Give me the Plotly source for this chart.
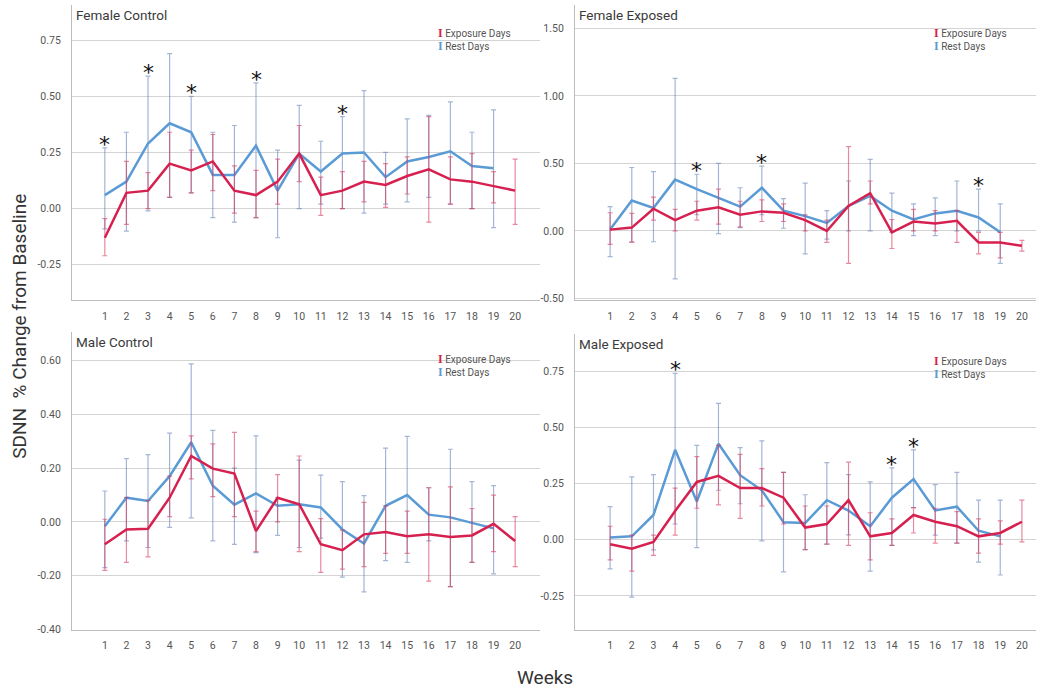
import plotly.graph_objects as go

weeks = list(range(1, 21))
weeks_rest = list(range(1, 20))

# ---- Female Control ----
fc_exp_mean = [-0.13, 0.07, 0.08, 0.20, 0.17, 0.21, 0.08, 0.06, 0.12, 0.245,
               0.06, 0.08, 0.12, 0.105, 0.145, 0.175, 0.13, 0.12, 0.10, 0.08]
fc_exp_lo = [-0.21, -0.07, 0.00, 0.05, 0.07, 0.08, -0.02, -0.04, 0.02, 0.12,
             -0.03, 0.00, 0.03, 0.005, 0.065, -0.06, 0.02, 0.00, 0.025, -0.07]
fc_exp_hi = [-0.045, 0.21, 0.16, 0.34, 0.26, 0.33, 0.19, 0.17, 0.22, 0.37,
             0.14, 0.165, 0.21, 0.20, 0.23, 0.41, 0.23, 0.245, 0.165, 0.22]
fc_rest_mean = [0.06, 0.12, 0.29, 0.38, 0.34, 0.15, 0.15, 0.28, 0.08, 0.245,
                0.165, 0.245, 0.25, 0.14, 0.21, 0.23, 0.255, 0.19, 0.18]
fc_rest_lo = [-0.09, -0.10, -0.01, 0.05, 0.07, -0.04, -0.06, -0.04, -0.13, 0.00,
              0.02, 0.00, -0.02, 0.02, 0.03, 0.05, 0.02, 0.00, -0.085]
fc_rest_hi = [0.27, 0.34, 0.59, 0.69, 0.50, 0.34, 0.37, 0.56, 0.26, 0.46,
              0.30, 0.41, 0.525, 0.25, 0.40, 0.415, 0.475, 0.34, 0.44]
fc_stars = [1, 3, 5, 8, 12]

# ---- Female Exposed ----
fe_exp_mean = [0.01, 0.025, 0.165, 0.08, 0.15, 0.175, 0.12, 0.145, 0.135, 0.08,
               0.00, 0.185, 0.28, -0.01, 0.07, 0.055, 0.075, -0.085, -0.085, -0.11]
fe_exp_lo = [-0.10, -0.085, 0.08, 0.00, 0.08, 0.05, 0.03, 0.07, 0.07, 0.00,
             -0.085, -0.24, 0.20, -0.13, 0.00, 0.00, -0.085, -0.17, -0.20, -0.15]
fe_exp_hi = [0.135, 0.13, 0.25, 0.16, 0.22, 0.31, 0.22, 0.23, 0.20, 0.12,
             0.08, 0.625, 0.37, 0.085, 0.16, 0.15, 0.15, -0.01, -0.01, -0.07]
fe_rest_mean = [0.01, 0.225, 0.17, 0.38, 0.31, 0.245, 0.18, 0.32, 0.15, 0.11,
                0.06, 0.185, 0.26, 0.15, 0.085, 0.13, 0.15, 0.10, -0.01]
fe_rest_lo = [-0.19, -0.08, -0.08, -0.355, 0.12, -0.02, 0.025, 0.12, 0.02, -0.17,
              -0.06, 0.00, 0.00, -0.01, -0.035, -0.035, 0.00, 0.00, -0.24]
fe_rest_hi = [0.18, 0.47, 0.44, 1.13, 0.42, 0.50, 0.32, 0.48, 0.24, 0.355,
              0.15, 0.37, 0.53, 0.28, 0.20, 0.245, 0.37, 0.31, 0.20]
fe_stars = [5, 8, 18]

# ---- Male Control ----
mc_exp_mean = [-0.083, -0.028, -0.025, 0.09, 0.245, 0.198, 0.18, -0.034, 0.09, 0.066,
               -0.083, -0.105, -0.046, -0.037, -0.053, -0.046, -0.056, -0.05, -0.007, -0.071]
mc_exp_lo = [-0.18, -0.15, -0.13, 0.02, 0.16, 0.094, 0.02, -0.11, 0.00, -0.11,
             -0.187, -0.175, -0.166, -0.117, -0.117, -0.22, -0.24, -0.15, -0.11, -0.166]
mc_exp_hi = [0.01, 0.09, 0.08, 0.17, 0.32, 0.29, 0.333, 0.04, 0.176, 0.245,
             0.012, -0.03, 0.073, 0.06, 0.04, 0.127, 0.13, 0.05, 0.10, 0.02]
mc_rest_mean = [-0.016, 0.09, 0.078, 0.17, 0.296, 0.135, 0.064, 0.106, 0.06, 0.066,
                0.054, -0.028, -0.08, 0.06, 0.10, 0.027, 0.017, -0.004, -0.024]
mc_rest_lo = [-0.17, -0.07, -0.095, -0.02, 0.015, -0.07, -0.083, -0.114, -0.05, -0.095,
              -0.06, -0.205, -0.26, -0.144, -0.15, -0.07, -0.24, -0.15, -0.193]
mc_rest_hi = [0.115, 0.235, 0.25, 0.33, 0.587, 0.34, 0.20, 0.32, 0.09, 0.23,
              0.174, 0.15, 0.098, 0.274, 0.318, 0.127, 0.27, 0.15, 0.135]
mc_stars = []

# ---- Male Exposed ----
me_exp_mean = [-0.02, -0.04, -0.01, 0.128, 0.257, 0.284, 0.23, 0.23, 0.187, 0.054,
               0.07, 0.176, 0.015, 0.03, 0.11, 0.08, 0.06, 0.015, 0.03, 0.08]
me_exp_lo = [-0.09, -0.14, -0.07, 0.02, 0.14, 0.155, 0.095, 0.15, 0.07, -0.044,
             -0.02, -0.025, -0.09, -0.025, 0.03, -0.015, -0.015, -0.06, -0.02, -0.01]
me_exp_hi = [0.06, 0.02, 0.02, 0.23, 0.37, 0.42, 0.38, 0.316, 0.30, 0.15,
             0.15, 0.345, 0.12, 0.093, 0.143, 0.14, 0.125, 0.093, 0.084, 0.176]
me_rest_mean = [0.01, 0.015, 0.11, 0.40, 0.17, 0.427, 0.287, 0.22, 0.078, 0.074,
                0.176, 0.13, 0.06, 0.187, 0.27, 0.13, 0.147, 0.04, 0.015]
me_rest_lo = [-0.13, -0.255, -0.045, 0.07, -0.035, 0.22, 0.16, -0.005, -0.143, -0.044,
              -0.02, 0.022, -0.14, -0.025, 0.143, 0.02, -0.015, -0.10, -0.157]
me_rest_hi = [0.147, 0.28, 0.29, 0.74, 0.42, 0.607, 0.41, 0.44, 0.30, 0.20,
              0.343, 0.29, 0.257, 0.32, 0.40, 0.245, 0.30, 0.176, 0.176]
me_stars = [4, 14, 15]

panel_titles = ["Female Control", "Female Exposed", "Male Control", "Male Exposed"]
y_ranges = [[-0.407, 0.907], [-0.511, 1.674], [-0.40, 0.707], [-0.40, 0.917]]
y_ticks = [[-0.25, 0.0, 0.25, 0.5, 0.75],
           [-0.5, 0.0, 0.5, 1.0, 1.5],
           [-0.4, -0.2, 0.0, 0.2, 0.4, 0.6],
           [-0.25, 0.0, 0.25, 0.5, 0.75]]
tick_labels = [["-0.25", "0.00", "0.25", "0.50", "0.75"],
               ["-0.50", "0.00", "0.50", "1.00", "1.50"],
               ["-0.40", "-0.20", "0.00", "0.20", "0.40", "0.60"],
               ["-0.25", "0.00", "0.25", "0.50", "0.75"]]

panels = [
    (fc_exp_mean, fc_exp_lo, fc_exp_hi, fc_rest_mean, fc_rest_lo, fc_rest_hi, fc_stars),
    (fe_exp_mean, fe_exp_lo, fe_exp_hi, fe_rest_mean, fe_rest_lo, fe_rest_hi, fe_stars),
    (mc_exp_mean, mc_exp_lo, mc_exp_hi, mc_rest_mean, mc_rest_lo, mc_rest_hi, mc_stars),
    (me_exp_mean, me_exp_lo, me_exp_hi, me_rest_mean, me_rest_lo, me_rest_hi, me_stars),
]

RED = "#d6204f"
BLUE = "#5b9bd5"
RED_BAR = "rgba(214,40,80,0.55)"
BLUE_BAR = "rgba(90,120,180,0.55)"
W, H = 1038, 698

# panel boxes in pixels: (left, right, top, bottom)
boxes = [(72, 540, 5, 303), (575, 1036, 5, 303),
         (72, 540, 335, 636), (575, 1036, 337, 636)]
x_ranges = [[-0.52, 21.15], [-0.62, 20.65], [-0.52, 21.15], [-0.62, 20.65]]

fig = go.Figure()
annotations = []

for i, (em, elo, ehi, rm, rlo, rhi, stars) in enumerate(panels):
    n = i + 1
    xa = "x" if n == 1 else f"x{n}"
    ya = "y" if n == 1 else f"y{n}"
    # Rest days first so the exposure line sits on top
    fig.add_trace(go.Scatter(
        x=weeks_rest, y=rm, mode="lines", xaxis=xa, yaxis=ya,
        line=dict(color=BLUE, width=2.5), showlegend=False,
        error_y=dict(type="data", symmetric=False,
                     array=[h - m for h, m in zip(rhi, rm)],
                     arrayminus=[m - l for m, l in zip(rm, rlo)],
                     color=BLUE_BAR, thickness=1.2, width=2.5)))
    fig.add_trace(go.Scatter(
        x=weeks, y=em, mode="lines", xaxis=xa, yaxis=ya,
        line=dict(color=RED, width=2.5), showlegend=False,
        error_y=dict(type="data", symmetric=False,
                     array=[h - m for h, m in zip(ehi, em)],
                     arrayminus=[m - l for m, l in zip(em, elo)],
                     color=RED_BAR, thickness=1.2, width=2.5)))

    left, right, top, bottom = boxes[i]
    dom_x = [left / W, right / W]
    dom_y = [1 - bottom / H, 1 - top / H]
    axis_common = dict(showline=True, linecolor="#bdbdbd", linewidth=1.2,
                       zeroline=False, ticks="", tickfont=dict(family="Roboto", size=10.5, color="#555555"))
    fig.layout[f"xaxis{'' if n == 1 else n}"] = dict(
        domain=dom_x, range=x_ranges[i], anchor=ya, tickmode="array",
        tickvals=weeks, ticktext=[str(w) for w in weeks], showgrid=False,
        ticklabelstandoff=6, **axis_common)
    fig.layout[f"yaxis{'' if n == 1 else n}"] = dict(
        domain=dom_y, range=y_ranges[i], anchor=xa, tickmode="array",
        tickvals=y_ticks[i], ticktext=tick_labels[i], showgrid=True,
        gridcolor="#d4d4d4", gridwidth=1, ticklabelstandoff=8, **axis_common)

    # panel title
    annotations.append(dict(text=panel_titles[i], xref=f"{xa} domain", yref=f"{ya} domain",
                            x=0.005, y=1.0, xanchor="left", yanchor="top", showarrow=False,
                            font=dict(family="Roboto", size=13.5, color="#3a3a3a")))
    # significance markers above the tallest interval
    for wk in stars:
        j = wk - 1
        top_val = max(rhi[j], ehi[j])
        annotations.append(dict(text="*", x=wk, y=top_val, xref=xa, yref=ya,
                                xanchor="center", yanchor="bottom", showarrow=False,
                                yshift=-11, font=dict(family="DejaVu Sans", size=22, color="#111111")))
    # legend block: error-bar glyph plus label
    lx = (right - 104) / W
    ly = 1 - (top + 28) / H
    glyph = "font-family:Liberation Serif;font-weight:bold;font-size:12px"
    annotations.append(dict(text=f"<span style='color:{RED};{glyph}'>I</span> Exposure Days",
                            xref="paper", yref="paper", x=lx, y=ly, xanchor="left", yanchor="middle",
                            showarrow=False, font=dict(family="Roboto", size=10, color="#555555")))
    annotations.append(dict(text=f"<span style='color:{BLUE};{glyph}'>I</span> Rest Days",
                            xref="paper", yref="paper", x=lx, y=ly - 13 / H, xanchor="left", yanchor="middle",
                            showarrow=False, font=dict(family="Roboto", size=10, color="#555555")))

# shared axis titles
annotations.append(dict(text="SDNN  % Change from Baseline", xref="paper", yref="paper",
                        x=20 / W, y=1 - 330 / H, textangle=-90, showarrow=False,
                        xanchor="center", yanchor="middle",
                        font=dict(family="Roboto", size=19, color="#333333")))
annotations.append(dict(text="Weeks", xref="paper", yref="paper",
                        x=545 / W, y=1 - 684 / H, showarrow=False,
                        xanchor="center", yanchor="middle",
                        font=dict(family="Roboto", size=19, color="#333333")))

fig.update_layout(width=W, height=H, margin=dict(l=0, r=0, t=0, b=0),
                  paper_bgcolor="white", plot_bgcolor="white",
                  annotations=annotations, showlegend=False)

fig.write_html("out.html")
